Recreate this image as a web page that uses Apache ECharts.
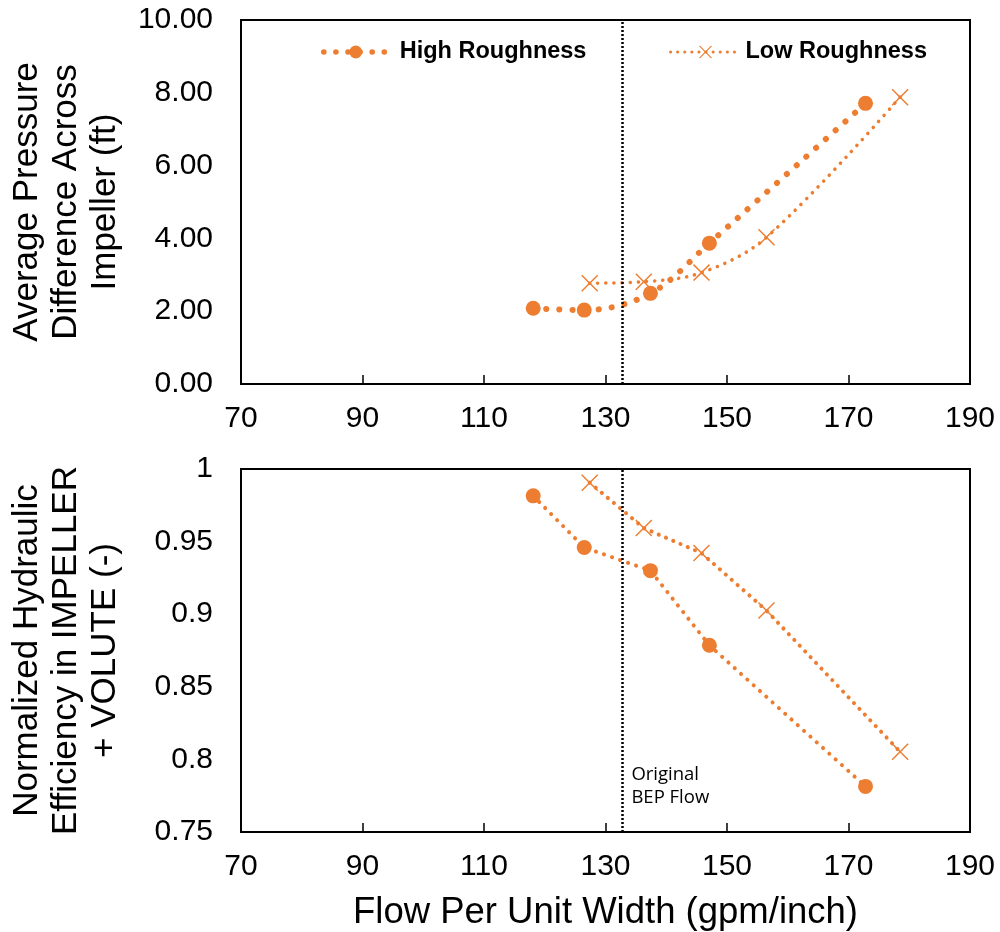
<!DOCTYPE html>
<html>
<head>
<meta charset="utf-8">
<script src="https://cdn.jsdelivr.net/npm/echarts@6/dist/echarts.min.js"></script>
<style>html,body{margin:0;padding:0;background:#fff}#c{width:1000px;height:932px}</style>
</head>
<body>
<div id="c"></div>
<script>
// ---- data ----
const seriesNames = ['High Roughness', 'Low Roughness'];
const flowHigh = [118.1, 126.5, 137.4, 147.1, 172.8];
const flowLow = [127.4, 136.3, 145.8, 156.5, 178.5];
const dpHigh = [2.08, 2.03, 2.49, 3.87, 7.71];
const dpLow = [2.77, 2.81, 3.06, 4.03, 7.88];
const effHigh = [0.9815, 0.9459, 0.930, 0.8786, 0.7814];
const effLow = [0.9906, 0.9593, 0.9421, 0.9025, 0.8052];
const bepFlow = 132.7;
const bepLabel = 'Original\nBEP Flow';
const xRange = [70, 190, 20];
const yTopRange = [0, 10, 2];
const yBotRange = [0.75, 1, 0.05];
const xTitle = 'Flow Per Unit Width (gpm/inch)';
const yTopTitle = 'Average Pressure\nDifference Across\nImpeller (ft)';
const yBotTitle = 'Normalized Hydraulic\nEfficiency in IMPELLER\n+ VOLUTE (-)';

const zip = (a, b) => a.map((v, i) => [v, b[i]]);
const ORANGE = '#ED7D31';
const FONT = 'Liberation Sans, Arial, sans-serif';
const crossPath = 'path://M0,1.2 L1.2,0 L10,8.8 L18.8,0 L20,1.2 L11.2,10 L20,18.8 L18.8,20 L10,11.2 L1.2,20 L0,18.8 L8.8,10 Z';

const bepLine = {
  silent: true, symbol: 'none', label: { show: false },
  lineStyle: { color: '#000', width: 2.5, type: [2, 2] },
  data: [{ xAxis: bepFlow }]
};

function xAxisDef(gi) {
  return {
    type: 'value', gridIndex: gi, min: xRange[0], max: xRange[1], interval: xRange[2],
    axisLine: { show: true, onZero: false, lineStyle: { color: '#000', width: 2 } },
    axisTick: { show: true, inside: true, length: 9, lineStyle: { color: '#000', width: 1.5 } },
    axisLabel: { fontSize: 30, color: '#000', fontFamily: FONT, margin: 20 },
    splitLine: { show: false },
    name: gi === 1 ? xTitle : '', nameLocation: 'middle', nameGap: 62,
    nameTextStyle: { fontSize: 36.5, color: '#000', fontFamily: FONT }
  };
}

const option = {
  backgroundColor: '#fff',
  animation: false,
  grid: [
    { left: 241, right: 30, top: 20, height: 364, show: true, borderColor: '#000', borderWidth: 2 },
    { left: 241, right: 30, top: 469, height: 364, show: true, borderColor: '#000', borderWidth: 2 }
  ],
  legend: [
    { data: [seriesNames[0]], left: 316, top: 35, itemWidth: 64, itemHeight: 16,
      lineStyle: { width: 5.5, type: [0.1, 12], cap: 'round', color: ORANGE },
      textStyle: { fontSize: 23.5, fontWeight: 'bold', color: '#000', fontFamily: FONT, padding: [0, 0, 0, 7] } },
    { data: [seriesNames[1]], left: 664, top: 35, itemWidth: 70, itemHeight: 16,
      lineStyle: { width: 3, type: [0.1, 7], cap: 'round', color: ORANGE },
      textStyle: { fontSize: 23.5, fontWeight: 'bold', color: '#000', fontFamily: FONT } }
  ],
  xAxis: [xAxisDef(0), xAxisDef(1)],
  yAxis: [
    { type: 'value', gridIndex: 0, min: yTopRange[0], max: yTopRange[1], interval: yTopRange[2],
      axisLine: { show: true, lineStyle: { color: '#000', width: 2 } }, axisTick: { show: false },
      splitLine: { show: false },
      axisLabel: { fontSize: 30, color: '#000', fontFamily: FONT, margin: 28, formatter: v => v.toFixed(2) },
      name: yTopTitle, nameLocation: 'middle', nameGap: 116, nameRotate: 90,
      nameTextStyle: { fontSize: 35, color: '#000', fontFamily: FONT, lineHeight: 39 } },
    { type: 'value', gridIndex: 1, min: yBotRange[0], max: yBotRange[1], interval: yBotRange[2],
      axisLine: { show: true, lineStyle: { color: '#000', width: 2 } }, axisTick: { show: false },
      splitLine: { show: false },
      axisLabel: { fontSize: 30, color: '#000', fontFamily: FONT, margin: 28 },
      name: yBotTitle, nameLocation: 'middle', nameGap: 116, nameRotate: 90,
      nameTextStyle: { fontSize: 35, color: '#000', fontFamily: FONT, lineHeight: 39 } }
  ],
  series: [
    { name: seriesNames[0], type: 'line', xAxisIndex: 0, yAxisIndex: 0, data: zip(flowHigh, dpHigh),
      smooth: 0.35, symbol: 'circle', symbolSize: 15, itemStyle: { color: ORANGE },
      lineStyle: { color: ORANGE, width: 6, type: [0.1, 13], cap: 'round' }, z: 3,
      markLine: bepLine },
    { name: seriesNames[1], type: 'line', xAxisIndex: 0, yAxisIndex: 0, data: zip(flowLow, dpLow),
      smooth: 0.35, symbol: crossPath, symbolSize: 17, itemStyle: { color: ORANGE },
      lineStyle: { color: ORANGE, width: 3.5, type: [0.1, 8], cap: 'round' }, z: 3 },
    { name: seriesNames[0], type: 'line', xAxisIndex: 1, yAxisIndex: 1, data: zip(flowHigh, effHigh),
      symbol: 'circle', symbolSize: 15, itemStyle: { color: ORANGE },
      lineStyle: { color: ORANGE, width: 4, type: [0.1, 8.4], cap: 'round' }, z: 3,
      markLine: bepLine,
      markPoint: {
        silent: true, symbol: 'circle', symbolSize: 1, itemStyle: { color: 'rgba(0,0,0,0)' },
        label: { show: true, position: 'right', distance: 9, formatter: bepLabel, color: '#000',
          fontSize: 18.5, lineHeight: 23, fontFamily: 'Open Sans, sans-serif', align: 'left' },
        data: [{ coord: [bepFlow, 0.7815] }]
      } },
    { name: seriesNames[1], type: 'line', xAxisIndex: 1, yAxisIndex: 1, data: zip(flowLow, effLow),
      symbol: crossPath, symbolSize: 17, itemStyle: { color: ORANGE },
      lineStyle: { color: ORANGE, width: 4, type: [0.1, 7.8], cap: 'round' }, z: 3 }
  ]
};

const chart = echarts.init(document.getElementById('c'), null, { renderer: 'canvas' });
chart.setOption(option);
</script>
</body>
</html>
